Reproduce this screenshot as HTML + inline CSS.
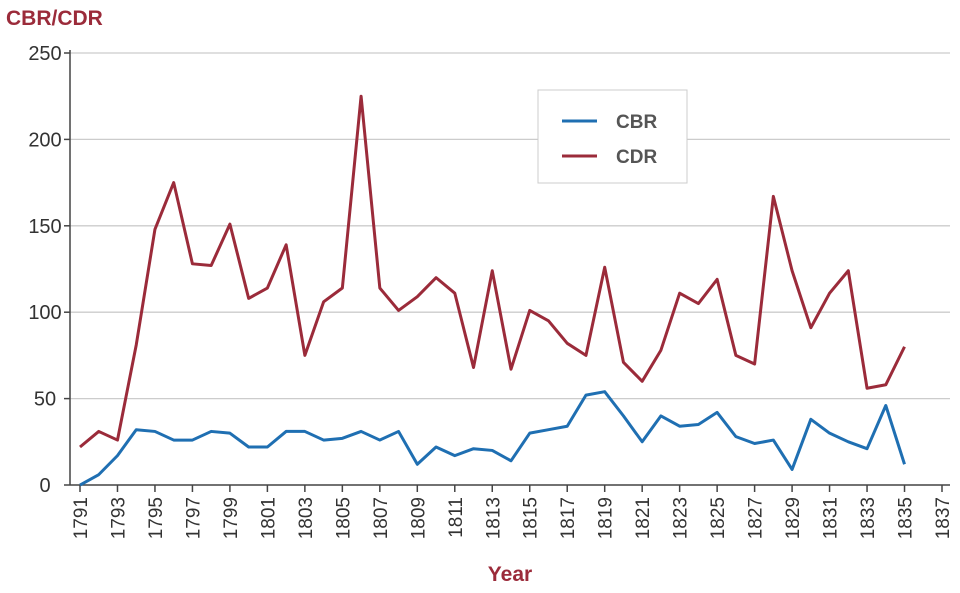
<!DOCTYPE html>
<html><head><meta charset="utf-8"><style>
body{margin:0;background:#fff;font-family:"Liberation Sans",sans-serif}
svg text{font-family:"Liberation Sans",sans-serif}
</style></head><body>
<svg width="960" height="588">
<g id="grid"></g><g id="axes"></g><g id="lines"></g>
<text x="6" y="25" font-size="21" font-weight="bold" fill="#9b2b3a">CBR/CDR</text>
<text x="510" y="581" font-size="21" font-weight="bold" fill="#9b2b3a" text-anchor="middle">Year</text>
<g>
<rect x="538" y="90" width="149" height="93" fill="#fff" stroke="#ccc"/>
<line x1="562" y1="121" x2="597" y2="121" stroke="#1f6fb2" stroke-width="3"/>
<text x="616" y="128" font-size="19" font-weight="600" fill="#555">CBR</text>
<line x1="562" y1="156" x2="597" y2="156" stroke="#9b2b3a" stroke-width="3"/>
<text x="616" y="163" font-size="19" font-weight="600" fill="#555">CDR</text>
</g>
</svg>
<script>
const years=[];for(let y=1791;y<=1835;y++)years.push(y);
const cbr=[0,6,17,32,31,26,26,31,30,22,22,31,31,26,27,31,26,31,12,22,17,21,20,14,30,32,34,52,54,40,25,40,34,35,42,28,24,26,9,38,30,25,21,46,12];
const cdr=[22,31,26,81,148,175,128,127,151,108,114,139,75,106,114,225,114,101,109,120,111,68,124,67,101,95,82,75,126,71,60,78,111,105,119,75,70,167,124,91,111,124,56,58,80];
const yTicks=[0,50,100,150,200,250];
const xTicks=[];for(let y=1791;y<=1837;y+=2)xTicks.push(y);
const NS="http://www.w3.org/2000/svg";
const X=v=>80+(v-1791)*(862/46);
const Y=v=>485-v*1.728;
function mk(t,a,p){const e=document.createElementNS(NS,t);for(const k in a)e.setAttribute(k,a[k]);p.appendChild(e);return e;}
const grid=document.getElementById('grid'),axes=document.getElementById('axes'),lines=document.getElementById('lines');
yTicks.forEach(v=>{
 if(v>0){const g=mk('line',{x1:70,x2:950,y1:Y(v),y2:Y(v),stroke:'#ccc','stroke-width':1.3},grid);
 
 }
 const tk=mk('line',{x1:64,x2:70,y1:Y(v),y2:Y(v),stroke:'#444','stroke-width':1.5},axes);
 
 
 const t=mk('text',{x:45,y:Y(v)+7,'font-size':20,fill:'#333','text-anchor':'middle'},axes);t.textContent=v;
 
 
});
const ya=mk('line',{x1:70,x2:70,y1:50,y2:485,stroke:'#444','stroke-width':1.5},axes);


const xa=mk('line',{x1:70,x2:950,y1:485,y2:485,stroke:'#444','stroke-width':1.5},axes);


xTicks.forEach(v=>{
 const tk=mk('line',{x1:X(v),x2:X(v),y1:485,y2:492,stroke:'#444','stroke-width':1.5},axes);
 
 
 const t=mk('text',{x:0,y:0,'font-size':19,fill:'#333','text-anchor':'end',transform:`translate(${X(v)+7},497) rotate(-90)`},axes);t.textContent=v;
 
 
});
function line(d,c,n){const p=mk('polyline',{points:d.map((v,i)=>X(years[i])+','+Y(v)).join(' '),fill:'none',stroke:c,'stroke-width':3,'stroke-linejoin':'round'},lines);
 
 }
line(cbr,'#1f6fb2','cbr-line');
line(cdr,'#9b2b3a','cdr-line');
</script>
</body></html>
